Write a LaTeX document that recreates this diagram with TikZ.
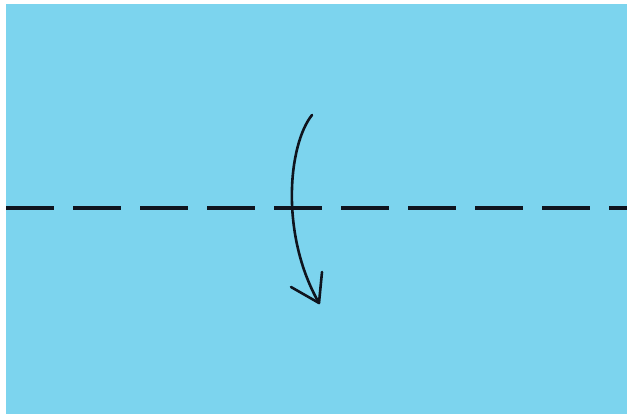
\documentclass[tikz,border=0pt]{standalone}
\definecolor{paper}{RGB}{124,212,238}
\definecolor{ink}{RGB}{15,20,30}
\begin{document}
\begin{tikzpicture}[x=1pt,y=-1pt,
  foldline/.style={ink,line width=3.6pt,dash pattern=on 48pt off 19pt},
  arrowline/.style={ink,line width=2.6pt,line cap=round,line join=round}]
\useasboundingbox (0,0) rectangle (627,417);
\fill[white] (0,0) rectangle (627,417);
\fill[paper] (6,4) rectangle (627,414);
\coordinate (L) at (6,208);
\coordinate (R) at (627,208);
\draw[foldline] (L) -- (R);
\coordinate (A) at (312,115);
\coordinate (T) at (319,303);
\coordinate (H1) at (322,272);
\coordinate (H2) at (291,287);
\draw[arrowline] (A) .. controls (288,145) and (280,235) .. (T);
\draw[arrowline] (H1) -- (T) -- (H2);
\end{tikzpicture}
\end{document}
